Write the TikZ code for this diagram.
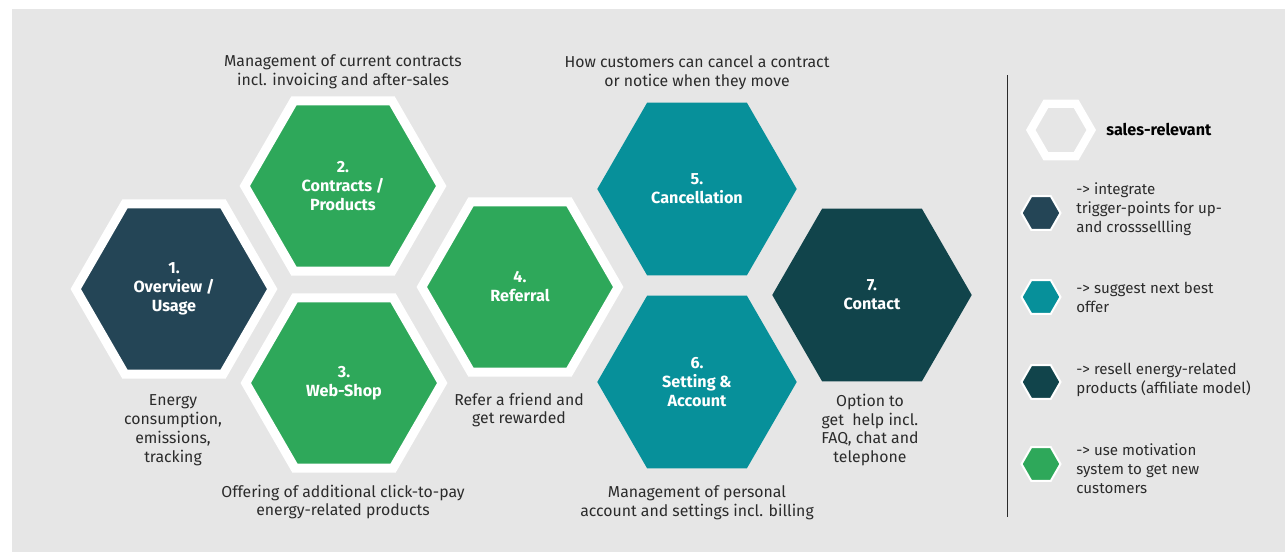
\documentclass[tikz,border=0pt]{standalone}
\usepackage{fontspec}
\setmainfont{Fira Sans}
\usetikzlibrary{shapes.geometric}
\definecolor{slate}{HTML}{244556}
\definecolor{leaf}{HTML}{2EA85A}
\definecolor{sea}{HTML}{07909A}
\definecolor{petrol}{HTML}{11444B}
\definecolor{paper}{HTML}{E6E6E6}
\definecolor{ink}{HTML}{2B2B2B}

\begin{document}
\begin{tikzpicture}[x=0.02cm,y=-0.02cm,
  hexrim/.style={regular polygon, regular polygon sides=6, inner sep=0pt,
    minimum size=3.93cm, draw=white, line width=0.18cm, fill=#1,
    text=white, align=center, font=\bfseries\fontsize{9.2}{10.8}\selectfont},
  hexbare/.style={regular polygon, regular polygon sides=6, inner sep=0pt,
    minimum size=3.99cm, fill=#1,
    text=white, align=center, font=\bfseries\fontsize{9.2}{10.8}\selectfont},
  lgdot/.style={regular polygon, regular polygon sides=6, inner sep=0pt,
    minimum size=0.78cm, draw=white, line width=0.04cm, fill=#1},
  desc/.style={text=ink, align=center, font=\fontsize{9}{10.8}\selectfont},
  lgtext/.style={text=ink, align=left, anchor=west, inner sep=0pt,
    font=\fontsize{8.6}{10.8}\selectfont}]
\useasboundingbox (0,0) rectangle (1285,552);
\fill[paper] (12,9) rectangle (1285,552);

\node[hexrim=slate] (ov) at (174,289) {1.\\Overview /\\Usage};
\node[hexrim=leaf] (con) at (343,186) {2.\\Contracts /\\Products};
\node[hexrim=leaf] (web) at (344,383) {3.\\Web-Shop};
\node[hexrim=leaf] (ref) at (520,287) {4.\\Referral};
\node[hexbare=sea] (can) at (697,189) {5.\\Cancellation};
\node[hexbare=sea] (set) at (697,382) {6.\\Setting \&\\Account};
\node[hexbare=petrol] (cont) at (872,295) {7.\\Contact};

\node[desc] (contxt) at (343,72) {Management of current contracts\\incl. invoicing and after-sales};
\node[desc] (cantxt) at (697,73) {How customers can cancel a contract\\or notice when they move};
\node[desc] (ovtxt) at (173,430) {Energy\\consumption,\\emissions,\\tracking};
\node[desc] (reftxt) at (519,410) {Refer a friend and\\get rewarded};
\node[desc] (conttxt) at (870,430) {Option to\\get\ \ help incl.\\FAQ, chat and\\telephone};
\node[desc] (webtxt) at (343,502) {Offering of additional click-to-pay\\energy-related products};
\node[desc] (settxt) at (697,503) {Management of personal\\account and settings incl. billing};

\draw[ink, line width=0.02cm] (1007,75) -- (1007,517);
\node[regular polygon, regular polygon sides=6, inner sep=0pt, minimum size=1.21cm,
  draw=white, line width=0.165cm] (lgrim) at (1061,130) {};
\node[lgtext, text=black, font=\bfseries\fontsize{9.2}{10.8}\selectfont] (lgrimtxt) at (1106,129) {sales-relevant};
\node[lgdot=slate] (lgslate) at (1041,213) {};
\node[lgtext] (lgslatetxt) at (1076,209) {-> integrate\\trigger-points for up-\\and crosssellling};
\node[lgdot=sea] (lgsea) at (1041,297) {};
\node[lgtext] (lgseatxt) at (1076,297) {-> suggest next best\\offer};
\node[lgdot=petrol] (lgpetrol) at (1041,382) {};
\node[lgtext] (lgpetroltxt) at (1076,380) {-> resell energy-related\\products (affiliate model)};
\node[lgdot=leaf] (lgleaf) at (1041,464) {};
\node[lgtext] (lgleaftxt) at (1076,469) {-> use motivation\\system to get new\\customers};
\end{tikzpicture}
\end{document}
